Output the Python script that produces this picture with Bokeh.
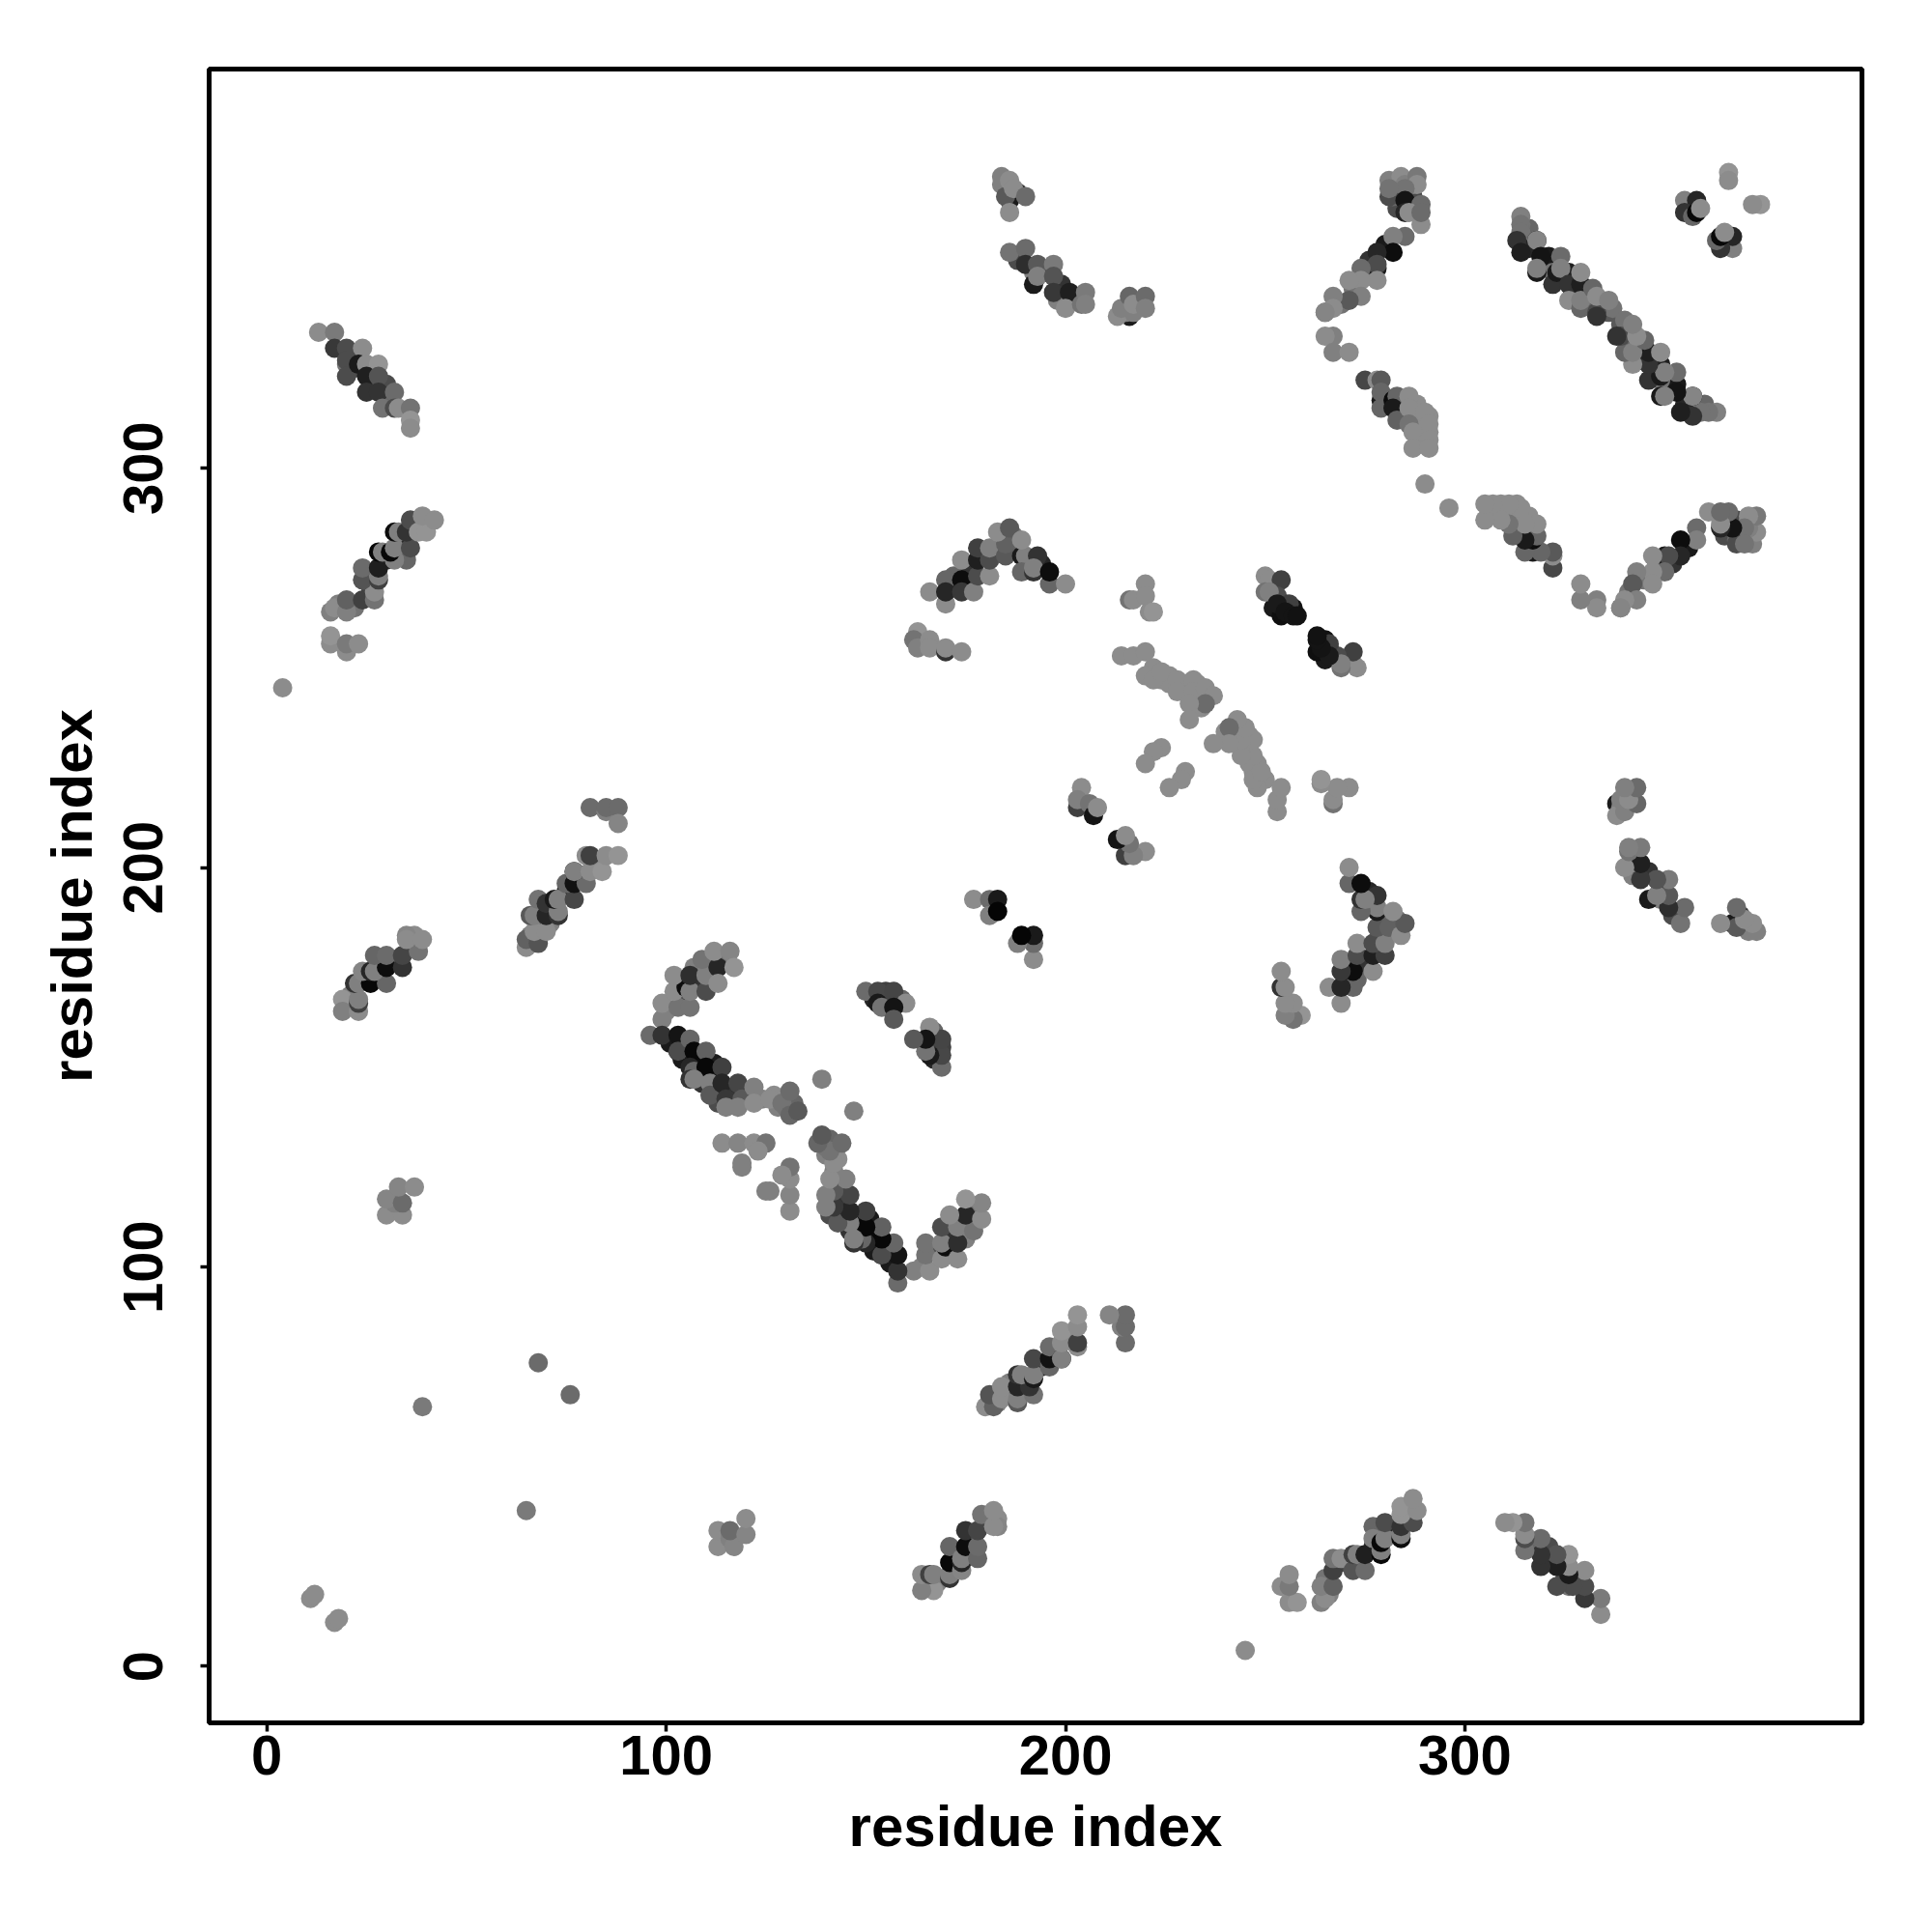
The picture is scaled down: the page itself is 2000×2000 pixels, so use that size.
from bokeh.embed import file_html
from bokeh.resources import INLINE
from bokeh.plotting import figure
from bokeh.models import FixedTicker, Range1d, ColumnDataSource

# contacts: (residue i, residue j, gray level); the map is symmetric, the mirror is added below
singles = [(11,17,.55),(12,18,.55),(39,65,.48),(68,76,.42),(4,245,.55),(290,296,.55),
           (366,374,.58),(366,372,.55)]
under_a = [(22,328,.3),(26,321,.25),(30,321,.3),(30,317,.4),(22,325,.3),(26,325,.2),
           (26,270,.3),(30,277,.2),(34,279,.3),(38,286,.5),(34,282,.15),(22,265,.45),(18,266,.5),
           (25,172,.2),(28,176,.2),(32,177,.35),(36,180,.35),(21,168,.5),(37,183,.55),
           (72,190,.15),(75,194,.15),(79,198,.4),(83,201,.55),(68,186,.3),(71,186,.5),(66,183,.5)]
under_b = [(104,167,.3),(108,171,.2),(111,175,.3),(104,171,.5),(107,175,.5),(115,177,.45),(100,164,.5),(111,171,.5),
           (101,156,.1),(104,152,.1),(108,152,.05),(108,149,.1),(112,148,.1),(112,151,.1),(109,146,.2),(113,144,.15),
           (116,144,.2),(113,141,.3),(120,143,.4),(124,142,.5),(128,140,.5),(130,140,.45),(132,141,.4),(127,143,.55),
           (155,167,.1),(155,169,.25),(152,167,.15),(159,167,.4)]
under_c = [(188,369,.2),(185,372,.5),(188,352,.3),(195,349,.25),(199,346,.2),(203,343,.4),(198,342,.5),(192,349,.5),
           (216,338,.1),(215,339,.5),(218,340,.55),(219,342,.45),
           (172,270,.15),(176,275,.2),(179,279,.3),(183,279,.3),(187,280,.4),(191,276,.2),(194,276,.15),(187,283,.45),
           (172,273,.4),(176,271,.25),
           (222,250,.55),(224,247,.55),(226,248,.55),(226,246,.55),(230,246,.55),(230,245,.55),(233,246,.55),(234,243,.55),(234,240,.55)]
under_d = [(283,370,.5),(287,368,.3),(283,365,.3),(288,365,.5),(276,352,.2),(280,356,.1),(272,345,.45),(269,341,.45),
           (276,348,.5),(282,368,.4),(287,371,.5),
           (288,316,.55),(290,312,.55),(291,309,.55),(289,308,.55),(288,312,.55),(291,313,.55),(289,306,.55),
           (316,355,.15),(320,351,.1),(321,353,.1),(322,349,.45),(326,349,.12),(327,344,.2),(331,344,.15),(331,341,.4),
           (335,340,.4),(316,360,.4),(336,339,.35),(337,340,.45),(334,342,.4),
           (252,265,.1),(254,263,.06),(255,266,.1),(257,265,.07),(252,270,.3)]
patch_a = [(13,334,.55),(17,334,.48),(17,330,.22),(20,330,.3),(24,330,.55),(20,326,.45),(20,327,.3),
           (20,323,.3),(23,326,.1),(25,326,.55),(28,326,.58),(25,323,.12),(28,323,.33),(25,319,.2),
           (28,319,.2),(32,319,.42),(29,315,.45),(32,315,.3),(33,315,.55),(36,315,.45),(36,312,.58),(36,310,.55)]
patch_b = [(16,256,.55),(16,258,.58),(20,254,.55),(20,256,.48),(23,256,.55),(16,264,.5),(17,265,.55),
           (20,264,.5),(20,267,.38),(24,267,.25),(27,267,.45),(27,269,.55),(24,272,.33),(28,272,.25),
           (28,273,.5),(24,275,.42),(28,275,.12),(28,279,.03),(29,279,.5),(35,277,.4),(32,277,.5),
           (31,279,.03),(32,280,.5),(36,280,.3),(32,284,.05),(33,284,.5),(35,284,.2),(36,287,.3),
           (38,284,.58),(40,284,.58),(39,288,.55),(42,287,.55)]
patch_e = [(19,167,.58),(19,164,.5),(23,164,.55),(23,166,.25),(23,167,.5),(22,171,.2),(23,171,.5),
           (26,171,.03),(30,171,.4),(24,174,.52),(26,174,.15),(27,174,.5),(30,175,.05),(34,175,.2),
           (27,178,.4),(30,178,.42),(34,178,.27),(38,179,.45),(35,183,.52),(35,182,.55),(39,182,.55)]
patch_d = [(65,180,.55),(65,182,.38),(68,181,.33),(67,184,.55),(70,184,.55),(66,188,.35),(67,188,.5),
           (68,192,.45),(70,188,.15),(70,191,.2),(73,188,.2),(73,189,.5),(72,192,.1),(73,192,.5),
           (77,192,.28),(75,196,.4),(77,196,.07),(80,196,.42),(77,199,.1),(77,199,.5),(81,199,.55),
           (84,199,.58),(80,203,.55),(81,203,.25),(85,203,.55),(88,203,.58)]
patch_c = [(81,215,.42),(85,214,.5),(85,215,.42),(88,215,.42),(88,211,.52)]
patch_f = [(30,113,.55),(34,113,.55),(32,116,.5),(30,117,.52),(34,116,.42),(33,120,.52),(37,120,.55)]
patch_g = [(99,162,.5),(99,166,.55),(103,165,.45),(106,165,.45),(102,169,.55),(105,170,.05),(106,169,.5),
           (102,173,.55),(106,173,.18),(110,169,.3),(110,173,.5),(109,177,.45),(113,175,.15),(113,171,.55),
           (112,179,.55),(116,179,.52),(117,175,.58)]
patch_h = [(96,158,.42),(99,158,.2),(103,158,.08),(103,154,.05),(103,154,.3),(106,157,.4),(107,154,.03),
           (106,150,.15),(107,149,.4),(110,154,.38),(110,150,.03),(114,150,.25),(106,147,.2),(107,147,.5),
           (111,146,.5),(111,143,.35),(114,146,.15),(118,146,.27),(115,142,.22),(115,140,.5),(119,142,.35),
           (118,140,.5),(122,145,.5),(122,141,.55),(126,142,.55),(129,141,.45),(131,144,.42),(131,138,.4),
           (133,139,.35),(139,147,.5)]
patch_k = [(114,131,.55),(118,131,.52),(122,131,.55),(125,131,.45),(123,129,.55),(119,126,.5),(119,125,.5)]
patch_m = [(150,169,.42),(153,169,.28),(157,169,.27),(160,166,.55),(153,166,.1),(154,165,.45),(157,165,.08),
           (157,162,.35)]
patch_n = [(184,373,.5),(184,371,.5),(186,367,.1),(185,368,.35),(186,372,.55),(187,370,.55),(190,368,.42),
           (186,364,.55),(186,354,.45),(190,355,.42),(190,351,.18),(193,351,.35),(197,351,.48),(192,346,.1),
           (193,348,.5),(197,348,.33),(197,344,.22),(201,344,.12),(200,340,.55),(204,341,.45),(205,344,.48),(205,341,.5)]
patch_o = [(213,338,.55),(214,340,.5),(216,343,.4),(217,339,.5),(217,341,.55),(220,343,.42),(220,340,.5)]
patch_p = [(166,269,.55),(170,266,.55),(170,272,.4),(170,269,.15),(174,272,.05),(174,269,.22),(177,269,.5),
           (178,273,.3),(181,273,.55),(174,277,.55),(178,277,.12),(178,280,.25),(181,277,.3),(181,280,.5),
           (185,278,.35),(185,281,.38),(183,284,.55),(186,285,.35),(189,278,.1),(190,278,.5),(189,282,.55),
           (193,278,.2),(189,274,.4),(192,274,.2),(192,275,.5),(196,271,.4),(196,274,.05),(200,271,.55)]
patch_q = [(163,259,.58),(162,257,.45),(163,255,.5),(166,257,.55),(166,255,.55),(170,254,.2),(170,255,.55),(174,254,.55)]
patch_r = [(216,267,.45),(217,267,.55),(220,271,.55),(220,268,.55),(221,264,.55),(222,264,.58)]
patch_s = [(214,253,.55),(217,253,.55),(220,254,.55),(220,248,.55),(222,247,.55),(224,249,.55),(228,247,.55),
           (232,247,.55),(228,244,.55),(232,244,.55),(235,245,.55),(237,243,.55),(235,241,.42),(231,241,.55),(231,237,.55),
           (224,230,.55),(222,229,.55),(220,226,.55)]
patch_t = [(204,220,.55),(203,215,.25),(203,217,.5),(206,216,.45),(207,213,.08),(208,215,.55),
           (177,192,.55),(181,192,.42),(183,192,.1),(181,188,.5),(183,189,.02)]
patch_y = [(281,372,.5),(284,373,.55),(285,371,.5),(288,373,.47),(288,371,.55),(285,370,.45),(281,368,.3),(281,370,.45),
           (285,367,.08),(289,366,.42),(285,364,.15),(286,364,.55),(289,361,.55),(289,364,.42),(285,358,.42),(282,358,.5),
           (282,354,.05),(278,354,.15),(278,350,.1),(278,351,.3),(274,350,.42),(278,347,.55),(274,347,.55),(271,347,.55),
           (274,343,.5),(271,342,.35),(267,343,.5),(265,339,.4),(267,340,.55),(265,339,.52),(267,333,.5),(265,333,.55),
           (267,329,.5),(271,329,.55)]
patch_z = [(275,322,.28),(278,322,.55),(279,322,.35),(279,317,.1),(279,319,.4),(279,315,.4),(282,317,.05),(283,318,.4),
           (286,318,.55),(282,315,.1),(283,312,.38),(286,315,.55),(290,314,.55),(286,311,.45),(291,311,.55),(287,309,.55),
           (291,307,.55),(287,305,.55),(291,305,.55)]
patch_aa = [(314,363,.5),(314,361,.45),(314,359,.45),(313,357,.2),(314,354,.12),(318,357,.03),(318,357,.52),(319,353,.08),
            (318,349,.1),(318,350,.5),(324,353,.42),(322,346,.2),(323,349,.1),(324,350,.5),(326,346,.2),(329,346,.12),
            (329,349,.55),(326,342,.55),(329,340,.4),(329,342,.5),(332,345,.4),(333,339,.3),(333,338,.2),(333,343,.55),(336,342,.5)]
patch_bb = [(355,367,.5),(358,367,.15),(355,364,.2),(357,363,.4),(358,364,.03),(359,365,.55)]
patch_cc = [(250,273,.55),(251,272,.55),(254,272,.25),(250,269,.45),(253,268,.3),(251,269,.5),(256,266,.25),(253,266,.1),
            (255,264,.08),(257,263,.08),(258,263,.07)]

patches = [under_a, under_b, under_c, under_d, singles, patch_a, patch_b, patch_e, patch_d, patch_c, patch_f, patch_g,
           patch_h, patch_k, patch_m, patch_n, patch_o, patch_p, patch_q, patch_r, patch_s, patch_t, patch_y, patch_z,
           patch_aa, patch_bb, patch_cc]

tick_values = [0, 100, 200, 300]
axis_title = "residue index"

xs, ys, colors = [], [], []
for patch in patches:
    for i, j, g in patch:
        c = int(round(g * 255))
        xs += [i, j]
        ys += [j, i]
        colors += ["#%02x%02x%02x" % (c, c, c)] * 2

p = figure(width=1992, height=1992, output_backend="svg", toolbar_location=None,
           x_range=Range1d(-14.4, 399.4), y_range=Range1d(-14.15, 399.9),
           min_border_left=216, min_border_right=65, min_border_top=71, min_border_bottom=209)
p.grid.visible = False
p.background_fill_color = "white"
p.border_fill_color = "white"
p.outline_line_color = "black"
p.outline_line_width = 5

p.scatter(source=ColumnDataSource(dict(x=xs, y=ys, c=colors)), x="x", y="y", size=20,
          fill_color="c", line_color=None)

for ax in (p.xaxis[0], p.yaxis[0]):
    ax.ticker = FixedTicker(ticks=tick_values)
    ax.axis_line_color = None
    ax.major_tick_line_color = "black"
    ax.major_tick_line_width = 3.5
    ax.major_tick_out = 9
    ax.major_tick_in = 0
    ax.minor_tick_out = 0
    ax.minor_tick_in = 0
    ax.axis_label = axis_title
    ax.axis_label_text_font = "Liberation Sans"
    ax.axis_label_text_font_style = "bold"
    ax.axis_label_text_font_size = "60px"
    ax.major_label_text_font = "Liberation Sans"
    ax.major_label_text_font_style = "bold"
    ax.major_label_text_font_size = "58px"
    ax.major_label_text_color = "black"
    ax.axis_label_text_color = "black"
p.xaxis[0].major_label_standoff = 4
p.xaxis[0].axis_label_standoff = 17
p.yaxis[0].major_label_standoff = 39
p.yaxis[0].axis_label_standoff = 18
p.yaxis[0].major_label_orientation = "vertical"

open("out.html", "w").write(file_html(p, INLINE))
